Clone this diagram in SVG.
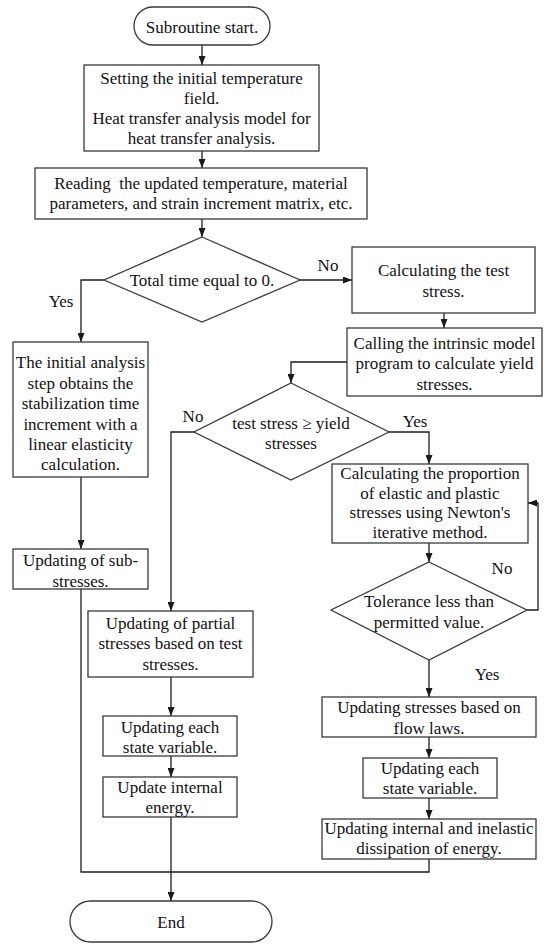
<svg xmlns="http://www.w3.org/2000/svg" width="550" height="946" viewBox="0 0 550 946">
<defs>
<marker id="ah" markerUnits="userSpaceOnUse" markerWidth="9" markerHeight="7" refX="9" refY="3.5" orient="auto">
<path d="M0,0 L9,3.5 L0,7 z" fill="#1a1a1a"/>
</marker>
<style>
.n{fill:#fff;stroke:#3a3a3a;stroke-width:1.3}
.t{font-family:"Liberation Serif","Times New Roman",serif;font-size:17px;fill:#111;text-anchor:middle}
.c{fill:none;stroke:#1e1e1e;stroke-width:1.3}
.a{marker-end:url(#ah)}
</style>
</defs>
<rect width="550" height="946" fill="#fff"/>
<g id="connectors">
<path class="c a" d="M202,45 V65"/>
<path class="c a" d="M202,151 V168"/>
<path class="c a" d="M202,219 V237"/>
<path class="c a" d="M300,280 H352"/>
<path class="c a" d="M104,280 H81 V342"/>
<path class="c a" d="M444,313 V328"/>
<path class="c a" d="M347,362 H291 V383"/>
<path class="c a" d="M194,432 H171 V611"/>
<path class="c a" d="M389,432 H429 V464"/>
<path class="c a" d="M81,477 V549"/>
<path class="c" d="M81,589 V872 H429 V859"/>
<path class="c a" d="M429,543 V562"/>
<path class="c a" d="M527,610 H538 V503 H528"/>
<path class="c a" d="M429,660 V697"/>
<path class="c a" d="M429,737 V758"/>
<path class="c a" d="M429,798 V819"/>
<path class="c a" d="M171,677 V716"/>
<path class="c a" d="M171,756 V777"/>
<path class="c a" d="M171,817 V901"/>
<text class="t" x="328" y="271">No</text>
<text class="t" x="61" y="307">Yes</text>
<text class="t" x="193" y="422">No</text>
<text class="t" x="415" y="427">Yes</text>
<text class="t" x="502" y="574">No</text>
<text class="t" x="487" y="680">Yes</text>
</g>
<g id="start">
<rect class="n" x="134" y="7" width="136" height="38" rx="19"/>
<text class="t" x="202" y="33">Subroutine start.</text>
</g>
<g id="init-temp">
<rect class="n" x="84" y="65" width="235" height="86"/>
<text class="t" x="201.5" y="84">Setting the initial temperature</text>
<text class="t" x="201.5" y="104">field.</text>
<text class="t" x="201.5" y="124">Heat transfer analysis model for</text>
<text class="t" x="201.5" y="144">heat transfer analysis.</text>
</g>
<g id="read">
<rect class="n" x="35" y="168" width="332" height="51"/>
<text class="t" x="201" y="189" xml:space="preserve">Reading  the updated temperature, material</text>
<text class="t" x="201" y="209">parameters, and strain increment matrix, etc.</text>
</g>
<g id="time-zero">
<polygon class="n" points="202,237 300,280 202,322 104,280"/>
<text class="t" x="202" y="286">Total time equal to 0.</text>
</g>
<g id="test-stress">
<rect class="n" x="352" y="247" width="183" height="66"/>
<text class="t" x="443.5" y="276">Calculating the test</text>
<text class="t" x="443.5" y="297">stress.</text>
</g>
<g id="intrinsic">
<rect class="n" x="347" y="328" width="195" height="68"/>
<text class="t" x="444.5" y="349">Calling the intrinsic model</text>
<text class="t" x="444.5" y="369">program to calculate yield</text>
<text class="t" x="444.5" y="390">stresses.</text>
</g>
<g id="initial-step">
<rect class="n" x="13" y="342" width="135" height="135"/>
<text class="t" x="80.5" y="368">The initial analysis</text>
<text class="t" x="80.5" y="389">step obtains the</text>
<text class="t" x="80.5" y="409">stabilization time</text>
<text class="t" x="80.5" y="430">increment with a</text>
<text class="t" x="80.5" y="450">linear elasticity</text>
<text class="t" x="80.5" y="470">calculation.</text>
</g>
<g id="yield-check">
<polygon class="n" points="291,383 389,432 291,480 194,432"/>
<text class="t" x="291" y="429">test stress ≥ yield</text>
<text class="t" x="291" y="449">stresses</text>
</g>
<g id="newton">
<rect class="n" x="332" y="464" width="196" height="79"/>
<text class="t" x="430" y="479">Calculating the proportion</text>
<text class="t" x="430" y="499">of elastic and plastic</text>
<text class="t" x="430" y="518">stresses using Newton's</text>
<text class="t" x="430" y="538">iterative method.</text>
</g>
<g id="tolerance">
<polygon class="n" points="429,562 527,610 429,660 331,610"/>
<text class="t" x="429" y="607">Tolerance less than</text>
<text class="t" x="429" y="628">permitted value.</text>
</g>
<g id="sub-stresses">
<rect class="n" x="13" y="549" width="135" height="40"/>
<text class="t" x="80.5" y="566">Updating of sub-</text>
<text class="t" x="80.5" y="587">stresses.</text>
</g>
<g id="partial">
<rect class="n" x="88" y="611" width="165" height="66"/>
<text class="t" x="170.5" y="629">Updating of partial</text>
<text class="t" x="170.5" y="649">stresses based on test</text>
<text class="t" x="170.5" y="670">stresses.</text>
</g>
<g id="state-left">
<rect class="n" x="103" y="716" width="134" height="40"/>
<text class="t" x="170" y="733">Updating each</text>
<text class="t" x="170" y="753">state variable.</text>
</g>
<g id="energy-left">
<rect class="n" x="103" y="777" width="134" height="40"/>
<text class="t" x="170" y="793">Update internal</text>
<text class="t" x="170" y="813">energy.</text>
</g>
<g id="flow">
<rect class="n" x="322" y="697" width="214" height="40"/>
<text class="t" x="429" y="713">Updating stresses based on</text>
<text class="t" x="429" y="734">flow laws.</text>
</g>
<g id="state-right">
<rect class="n" x="363" y="758" width="134" height="40"/>
<text class="t" x="430" y="774">Updating each</text>
<text class="t" x="430" y="794">state variable.</text>
</g>
<g id="dissipation">
<rect class="n" x="322" y="819" width="214" height="40"/>
<text class="t" x="429" y="834">Updating internal and inelastic</text>
<text class="t" x="429" y="854">dissipation of energy.</text>
</g>
<g id="end">
<rect class="n" x="70" y="901" width="202" height="41" rx="20.5"/>
<text class="t" x="171" y="928">End</text>
</g>
</svg>
